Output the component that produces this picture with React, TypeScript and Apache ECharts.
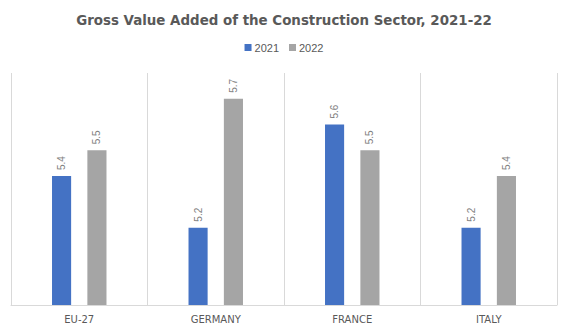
import React, { useEffect, useRef } from "react";
import * as echarts from "echarts";

const categories = ["EU-27", "GERMANY", "FRANCE", "ITALY"];
const values2021 = [5.4, 5.2, 5.6, 5.2];
const values2022 = [5.5, 5.7, 5.5, 5.4];
const seriesNames = ["2021", "2022"];

export default function App() {
  const ref = useRef<HTMLDivElement>(null);
  useEffect(() => {
    if (!ref.current) return;
    const chart = echarts.init(ref.current, null, { renderer: "svg" });
    const labelCfg = {
      show: true,
      position: "top",
      rotate: 90,
      align: "left",
      verticalAlign: "middle",
      distance: 6,
      color: "#7f7f7f",
      fontSize: 10,
      fontFamily: "Liberation Sans, Arial, sans-serif",
    };
    chart.setOption({
      animation: false,
      backgroundColor: "#ffffff",
      title: {
        text: "Gross Value Added of the Construction Sector, 2021-22",
        left: "center",
        top: 9,
        textStyle: {
          fontFamily: "DejaVu Sans, sans-serif",
          fontWeight: "bold",
          fontSize: 13.4,
          color: "#595959",
        },
      },
      legend: {
        top: 37,
        left: "center",
        itemWidth: 7,
        itemHeight: 7,
        itemGap: 10,
        icon: "rect",
        textStyle: {
          fontFamily: "Liberation Sans, Arial, sans-serif",
          fontSize: 11,
          color: "#595959",
          padding: [0, 0, 0, -2],
        },
        data: seriesNames,
      },
      grid: { left: 11, right: 11, top: 73, bottom: 26, containLabel: false },
      xAxis: {
        type: "category",
        data: categories,
        axisLine: { show: true, lineStyle: { color: "#d9d9d9", width: 1 } },
        axisTick: { show: false },
        splitLine: { show: true, lineStyle: { color: "#d9d9d9", width: 1 } },
        axisLabel: {
          color: "#595959",
          fontSize: 10,
          margin: 9,
          fontFamily: "DejaVu Sans, sans-serif",
        },
      },
      yAxis: {
        type: "value",
        min: 4.9,
        max: 5.8,
        show: false,
        splitLine: { show: false },
      },
      series: [
        {
          name: seriesNames[0],
          type: "bar",
          data: values2021,
          barWidth: "14%",
          barGap: "85%",
          itemStyle: { color: "#4472c4" },
          label: labelCfg,
        },
        {
          name: seriesNames[1],
          type: "bar",
          data: values2022,
          barWidth: "14%",
          barGap: "85%",
          itemStyle: { color: "#a5a5a5" },
          label: labelCfg,
        },
      ],
    });
    return () => chart.dispose();
  }, []);
  return <div ref={ref} style={{ width: 568, height: 331, margin: -8 }} />;
}
